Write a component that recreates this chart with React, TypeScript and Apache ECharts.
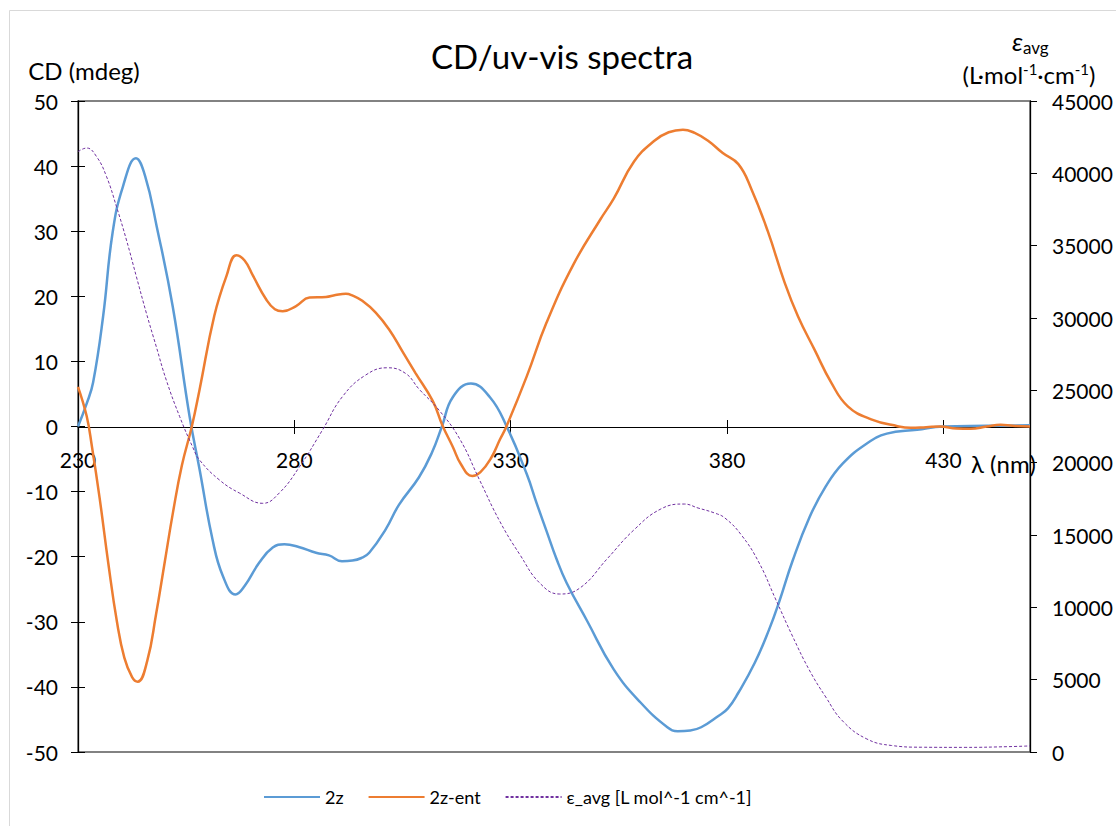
import React, { useEffect, useRef } from "react";
import * as echarts from "echarts";

// ---- data ----
const lambda2z = [230, 232, 233.5, 235.8, 238, 240.4, 243.4, 245.5, 248.2, 251.9, 255.8, 258.1, 261.1, 263.5, 266.4, 268.5, 271.9, 275, 277.7, 281, 285, 288, 291, 293.4, 295.5, 297.3, 301.1, 304.2, 308.8, 311.8, 314.1, 316.6, 320.8, 325.2, 329, 333.7, 336, 338.3, 340.5, 342.9, 347.6, 353.8, 360, 366.2, 368.6, 371.5, 374, 377.9, 380.2, 382.6, 386.4, 389.7, 392, 395.1, 399, 402.8, 406.7, 412.3, 416.9, 423.9, 430, 440, 450];
const cd2z = [0, 3.5, 6.8, 16.9, 29.8, 36.9, 41.2, 38.5, 30.7, 18.4, 1.5, -6.6, -17.4, -23, -25.8, -24.5, -20.9, -18.6, -18.1, -18.5, -19.4, -19.8, -20.7, -20.6, -20.2, -19.4, -15.8, -12.0, -7.8, -4, 0, 4.5, 6.6, 4.5, 0.1, -7.3, -11.8, -16.1, -20.2, -24, -29.8, -37.3, -42.4, -46.2, -46.8, -46.7, -46.2, -44.5, -43.3, -40.9, -36.3, -31.2, -27, -20.7, -14, -9.2, -5.7, -2.6, -1.1, -0.5, 0, 0.1, 0.2];

const lambdaEnt = [230, 232, 233.2, 235, 237, 239, 240.7, 242.5, 243.8, 246, 248, 250, 252, 254, 256.3, 258.1, 261.5, 264.3, 266.6, 268.5, 270.4, 273.5, 275.5, 277.3, 280.4, 283.5, 287.3, 289.5, 291.9, 293.5, 295.7, 298.8, 301.9, 305, 308, 312, 314.2, 316.6, 318.5, 321.1, 323, 325.5, 327.5, 329, 333.7, 338.3, 344.5, 350.7, 353.8, 358.5, 363.2, 366.5, 369.8, 372.5, 375.6, 379, 382.6, 385.6, 389.4, 393.3, 396.4, 400.2, 404.1, 407.9, 413.3, 419.4, 422.4, 426, 429.2, 433, 436.3, 440, 443.2, 446, 450];
const cdEnt = [6.1, 1.6, -3, -11, -21, -30, -35.5, -38.5, -39.2, -36, -29, -21, -13, -6, 0, 5.7, 17, 23.1, 26.3, 25.5, 23.2, 19.5, 18, 17.7, 18.5, 19.8, 19.9, 20.2, 20.4, 20.1, 19.3, 17.5, 14.9, 11.5, 8.2, 3.9, 0.2, -3.1, -5.8, -7.6, -7, -4.8, -2, 0, 7.7, 16, 24.9, 31.8, 35, 40.7, 43.9, 45.2, 45.6, 45.1, 43.9, 42, 40.3, 36.5, 30, 22.1, 16.9, 11.8, 6.7, 3.1, 1.1, 0.05, -0.2, -0.1, 0, -0.3, -0.35, 0, 0.25, 0.1, 0];

const lambdaEps = [230, 232, 234.3, 236.6, 238.9, 241.2, 243.5, 245.8, 248.1, 250.4, 253.5, 256.5, 258.1, 262.7, 267.3, 272.7, 276.5, 281.2, 286.5, 291.1, 296.5, 301.5, 305.7, 308.8, 313.4, 318.2, 322.8, 327.5, 332.1, 336.8, 341.3, 346.1, 352.3, 358.5, 364.7, 370.1, 373.3, 377.1, 379.5, 383.3, 387.3, 391.2, 395.1, 399, 402.8, 406.7, 412.3, 418, 425, 435, 445, 450];
const epsAvg = [41500, 41750, 41150, 39770, 37690, 35390, 32850, 30340, 28010, 25710, 23180, 21080, 20180, 18800, 17900, 17190, 17900, 19720, 22260, 24560, 26060, 26560, 26170, 25090, 23640, 21650, 18800, 15930, 13650, 11650, 10920, 11360, 13360, 15360, 16800, 17140, 16865, 16520, 16174, 15000, 13133, 10575, 8018, 5668, 3800, 2143, 900, 450, 330, 320, 370, 420];

const xTicks = [230, 280, 330, 380, 430];
const seriesNames = ["2z", "2z-ent", "ε_avg [L mol^-1 cm^-1]"];

const FONT = "Lato";

function pairs(xs: number[], ys: number[]) {
  return xs.map((x, i) => [x, ys[i]]);
}

export default function App() {
  const ref = useRef<HTMLDivElement>(null);
  useEffect(() => {
    const chart = echarts.init(ref.current!, null, { renderer: "svg" });
    const labelStyle = { color: "#000", fontFamily: FONT, fontSize: 21 };
    const L = 78, R = 86, T = 101, B = 74;
    const zeroY = 427; // pixel row of CD = 0 (middle of the plot)
    const hiddenY = (gridIndex: number) => ({ type: "value", gridIndex, show: false, min: -50, max: 50 });
    const hiddenX = (gridIndex: number) => ({ type: "value", gridIndex, show: false, min: 230, max: 450 });
    chart.setOption({
      animation: false,
      backgroundColor: "#fff",
      grid: [
        { left: L, right: R, top: T, bottom: B, show: true, borderColor: "#595959", borderWidth: 1.3 },
        { left: L, right: R, top: T, bottom: B },
        { left: L, right: R, top: T, bottom: 826 - zeroY },
        { left: L, right: R, top: zeroY, bottom: B },
      ],
      xAxis: [
        hiddenX(0),
        hiddenX(1),
        {
          type: "value",
          gridIndex: 2,
          min: 230,
          max: 450,
          position: "bottom",
          axisLine: { show: true, onZero: false, lineStyle: { color: "#000", width: 1 } },
          axisTick: { show: true, length: 7, customValues: xTicks, lineStyle: { color: "#000" } },
          axisLabel: { ...labelStyle, margin: 22, customValues: xTicks },
          splitLine: { show: false },
        },
        {
          type: "value",
          gridIndex: 3,
          min: 230,
          max: 450,
          position: "top",
          axisLine: { show: false, onZero: false },
          axisTick: { show: true, length: 7, customValues: xTicks, lineStyle: { color: "#000" } },
          axisLabel: { show: false },
          splitLine: { show: false },
        },
      ],
      yAxis: [
        {
          type: "value",
          gridIndex: 0,
          min: -50,
          max: 50,
          interval: 10,
          position: "left",
          axisLine: { show: true, onZero: false, lineStyle: { color: "#000", width: 1.3 } },
          axisTick: { show: true, length: 7, lineStyle: { color: "#000" } },
          axisLabel: { ...labelStyle, margin: 20 },
          splitLine: { show: false },
        },
        {
          type: "value",
          gridIndex: 0,
          min: 0,
          max: 45000,
          interval: 5000,
          position: "right",
          axisLine: { show: true, onZero: false, lineStyle: { color: "#000", width: 1.3 } },
          axisTick: { show: true, length: 7, lineStyle: { color: "#000" } },
          axisLabel: { ...labelStyle, margin: 22, formatter: (v: number) => String(v) },
          splitLine: { show: false },
        },
        {
          type: "value",
          gridIndex: 1,
          min: -50,
          max: 50,
          interval: 10,
          position: "left",
          axisLine: { show: false, onZero: false },
          axisTick: { show: true, inside: true, length: 7, lineStyle: { color: "#000" } },
          axisLabel: { show: false },
          splitLine: { show: false },
        },
        hiddenY(2),
        hiddenY(3),
      ],
      legend: {
        left: 258,
        top: 783,
        itemWidth: 56,
        itemHeight: 14,
        itemGap: 24,
        itemStyle: { color: "rgba(0,0,0,0)", borderWidth: 0, opacity: 0 },
        textStyle: { color: "#000", fontFamily: FONT, fontSize: 18 },
        data: seriesNames,
      },
      series: [
        {
          name: seriesNames[0],
          type: "line",
          xAxisIndex: 0,
          yAxisIndex: 0,
          data: pairs(lambda2z, cd2z),
          smooth: 0.45,
          symbol: "none",
          lineStyle: { color: "#5B9BD5", width: 2.5 },
          itemStyle: { color: "#5B9BD5" },
        },
        {
          name: seriesNames[1],
          type: "line",
          xAxisIndex: 0,
          yAxisIndex: 0,
          data: pairs(lambdaEnt, cdEnt),
          smooth: 0.45,
          symbol: "none",
          lineStyle: { color: "#ED7D31", width: 2.5 },
          itemStyle: { color: "#ED7D31" },
        },
        {
          name: seriesNames[2],
          type: "line",
          xAxisIndex: 0,
          yAxisIndex: 1,
          data: pairs(lambdaEps, epsAvg),
          smooth: 0.45,
          symbol: "none",
          lineStyle: { color: "#7030A0", width: 1, type: [3, 2] },
          itemStyle: { color: "#7030A0" },
        },
      ],
      graphic: [
        {
          type: "rect",
          shape: { x: 9.5, y: 10.5, width: 1130, height: 840 },
          style: { fill: "none", stroke: "#d9d9d9", lineWidth: 1 },
          silent: true,
        },
        {
          type: "text",
          x: 562,
          y: 56,
          style: {
            text: "CD/uv-vis spectra",
            fontFamily: FONT,
            fontSize: 33,
            fill: "#000",
            align: "center",
            verticalAlign: "middle",
          },
        },
        {
          type: "text",
          x: 84,
          y: 70,
          style: {
            text: "CD (mdeg)",
            fontFamily: FONT,
            fontSize: 24,
            fill: "#000",
            align: "center",
            verticalAlign: "middle",
          },
        },
        {
          type: "text",
          x: 1012,
          y: 28,
          style: {
            text: "{e|ε}{s|avg}",
            fill: "#000",
            align: "left",
            verticalAlign: "top",
            rich: {
              e: { fontFamily: FONT, fontSize: 26, fontStyle: "italic", lineHeight: 28, verticalAlign: "top", fill: "#000" },
              s: { fontFamily: FONT, fontSize: 17, lineHeight: 28, verticalAlign: "bottom", fill: "#000" },
            },
          },
        },
        {
          type: "text",
          x: 1029,
          y: 74,
          style: {
            text: "(L·mol{s|-1}·cm{s|-1})",
            fontFamily: FONT,
            fontSize: 24,
            lineHeight: 26,
            fill: "#000",
            align: "center",
            verticalAlign: "middle",
            rich: {
              s: { fontFamily: FONT, fontSize: 15, lineHeight: 26, verticalAlign: "top", fill: "#000" },
            },
          },
        },
        {
          type: "text",
          x: 971,
          y: 463,
          style: {
            text: "λ (nm)",
            fontFamily: FONT,
            fontSize: 24,
            fill: "#000",
            align: "left",
            verticalAlign: "middle",
          },
        },
      ],
    });
    return () => chart.dispose();
  }, []);
  return (
    <div
      ref={ref}
      style={{ position: "fixed", left: 0, top: 0, width: 1116, height: 826, background: "#fff" }}
    />
  );
}
